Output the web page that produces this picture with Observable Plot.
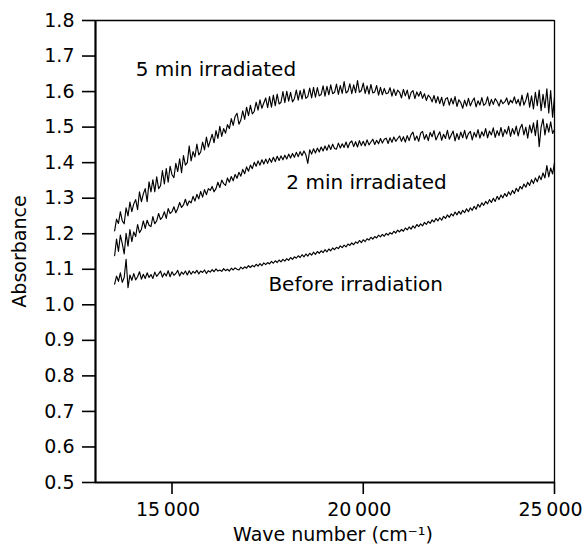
<!DOCTYPE html>
<html>
<head>
<meta charset="utf-8">
<script src="https://cdn.jsdelivr.net/npm/d3@7"></script>
<script src="https://cdn.jsdelivr.net/npm/@observablehq/plot@0.6"></script>
<style>
  html, body { margin: 0; padding: 0; background: #fff; }
  #chart svg g[aria-label="y-axis tick"] path,
  #chart svg g[aria-label="x-axis tick"] path { stroke-width: 1.6; }
</style>
</head>
<body>
<div id="chart"></div>
<script>
// Wave numbers (cm^-1) sampled along the spectra
const waveNumbers = [
  13500,13550,13600,13650,13700,13750,13800,13850,13900,13950,
  14000,14050,14100,14150,14200,14250,14300,14350,14400,14450,
  14500,14550,14600,14650,14700,14750,14800,14850,14900,14950,
  15000,15050,15100,15150,15200,15250,15300,15350,15400,15450,
  15500,15550,15600,15650,15700,15750,15800,15850,15900,15950,
  16000,16050,16100,16150,16200,16250,16300,16350,16400,16450,
  16500,16550,16600,16650,16700,16750,16800,16850,16900,16950,
  17000,17050,17100,17150,17200,17250,17300,17350,17400,17450,
  17500,17550,17600,17650,17700,17750,17800,17850,17900,17950,
  18000,18050,18100,18150,18200,18250,18300,18350,18400,18450,
  18500,18550,18600,18650,18700,18750,18800,18850,18900,18950,
  19000,19050,19100,19150,19200,19250,19300,19350,19400,19450,
  19500,19550,19600,19650,19700,19750,19800,19850,19900,19950,
  20000,20050,20100,20150,20200,20250,20300,20350,20400,20450,
  20500,20550,20600,20650,20700,20750,20800,20850,20900,20950,
  21000,21050,21100,21150,21200,21250,21300,21350,21400,21450,
  21500,21550,21600,21650,21700,21750,21800,21850,21900,21950,
  22000,22050,22100,22150,22200,22250,22300,22350,22400,22450,
  22500,22550,22600,22650,22700,22750,22800,22850,22900,22950,
  23000,23050,23100,23150,23200,23250,23300,23350,23400,23450,
  23500,23550,23600,23650,23700,23750,23800,23850,23900,23950,
  24000,24050,24100,24150,24200,24250,24300,24350,24400,24450,
  24500,24550,24600,24650,24700,24750,24800,24850,24900,24950,
  25000
];

// Absorbance, 5 min irradiated
const abs5min = [
  1.208,1.241,1.229,1.262,1.236,1.228,1.273,1.250,1.289,1.262,
  1.284,1.296,1.268,1.318,1.290,1.312,1.327,1.290,1.346,1.318,
  1.352,1.318,1.360,1.327,1.335,1.378,1.340,1.383,1.345,1.390,
  1.366,1.358,1.398,1.375,1.411,1.372,1.420,1.393,1.400,1.447,
  1.405,1.431,1.416,1.452,1.422,1.430,1.458,1.436,1.472,1.444,
  1.462,1.480,1.456,1.490,1.468,1.502,1.474,1.496,1.483,1.507,
  1.496,1.524,1.505,1.530,1.539,1.508,1.520,1.546,1.522,1.556,
  1.532,1.561,1.537,1.544,1.570,1.548,1.577,1.553,1.568,1.582,
  1.555,1.586,1.556,1.590,1.560,1.593,1.565,1.570,1.600,1.569,
  1.601,1.573,1.598,1.571,1.580,1.604,1.576,1.603,1.579,1.607,
  1.581,1.586,1.610,1.582,1.612,1.584,1.611,1.588,1.592,1.616,
  1.587,1.615,1.591,1.619,1.594,1.598,1.621,1.592,1.617,1.595,
  1.628,1.596,1.601,1.622,1.594,1.619,1.597,1.631,1.598,1.603,
  1.624,1.595,1.616,1.593,1.620,1.596,1.599,1.617,1.590,1.612,
  1.591,1.609,1.594,1.596,1.611,1.587,1.607,1.589,1.604,1.598,
  1.582,1.606,1.588,1.604,1.579,1.597,1.603,1.580,1.599,1.587,
  1.600,1.581,1.594,1.575,1.590,1.584,1.571,1.589,1.568,1.586,
  1.566,1.584,1.560,1.579,1.583,1.562,1.581,1.565,1.586,1.558,
  1.577,1.569,1.553,1.576,1.559,1.581,1.560,1.573,1.582,1.557,
  1.574,1.562,1.583,1.561,1.566,1.585,1.560,1.578,1.564,1.580,
  1.572,1.559,1.577,1.566,1.571,1.582,1.563,1.576,1.568,1.585,
  1.566,1.578,1.560,1.590,1.562,1.575,1.596,1.556,1.588,1.551,
  1.598,1.560,1.604,1.546,1.592,1.555,1.608,1.540,1.603,1.528,
  1.585
];

// Absorbance, 2 min irradiated
const abs2min = [
  1.138,1.185,1.150,1.196,1.172,1.143,1.201,1.165,1.212,1.178,
  1.205,1.192,1.226,1.203,1.212,1.236,1.215,1.238,1.224,1.220,
  1.248,1.228,1.236,1.257,1.240,1.247,1.262,1.243,1.271,1.257,
  1.262,1.276,1.259,1.271,1.288,1.274,1.281,1.297,1.279,1.292,
  1.287,1.305,1.292,1.311,1.298,1.319,1.303,1.324,1.310,1.327,
  1.322,1.333,1.318,1.327,1.345,1.330,1.351,1.341,1.336,1.357,
  1.345,1.361,1.349,1.367,1.356,1.373,1.362,1.381,1.369,1.388,
  1.376,1.393,1.383,1.401,1.390,1.405,1.393,1.408,1.396,1.410,
  1.398,1.412,1.401,1.415,1.403,1.418,1.406,1.419,1.408,1.421,
  1.410,1.424,1.413,1.426,1.415,1.429,1.417,1.431,1.420,1.433,
  1.422,1.398,1.436,1.424,1.439,1.427,1.441,1.430,1.444,1.433,
  1.447,1.435,1.450,1.437,1.452,1.440,1.438,1.455,1.441,1.453,
  1.443,1.458,1.442,1.456,1.461,1.445,1.459,1.444,1.462,1.448,
  1.460,1.447,1.464,1.450,1.458,1.466,1.451,1.463,1.453,1.468,
  1.455,1.466,1.469,1.454,1.470,1.457,1.472,1.460,1.468,1.475,
  1.460,1.473,1.458,1.476,1.462,1.479,1.486,1.463,1.475,1.460,
  1.483,1.488,1.466,1.479,1.462,1.485,1.473,1.490,1.464,1.476,
  1.487,1.463,1.480,1.468,1.491,1.466,1.478,1.489,1.461,1.482,
  1.465,1.486,1.470,1.491,1.467,1.482,1.488,1.464,1.485,1.472,
  1.493,1.469,1.487,1.475,1.496,1.470,1.489,1.478,1.498,1.471,
  1.490,1.476,1.499,1.473,1.493,1.481,1.502,1.474,1.496,1.480,
  1.503,1.475,1.497,1.508,1.478,1.500,1.469,1.506,1.484,1.512,
  1.476,1.519,1.445,1.500,1.523,1.478,1.510,1.486,1.515,1.482,
  1.493
];

// Absorbance, before irradiation
const absBefore = [
  1.058,1.081,1.066,1.090,1.063,1.077,1.128,1.048,1.084,1.069,
  1.088,1.070,1.079,1.093,1.072,1.086,1.074,1.090,1.077,1.085,
  1.074,1.092,1.080,1.087,1.095,1.078,1.089,1.081,1.096,1.079,
  1.093,1.083,1.088,1.097,1.081,1.092,1.086,1.095,1.084,1.096,
  1.086,1.094,1.089,1.097,1.087,1.095,1.091,1.098,1.088,1.096,
  1.092,1.099,1.093,1.101,1.095,1.098,1.094,1.102,1.096,1.100,
  1.095,1.103,1.098,1.104,1.100,1.098,1.106,1.101,1.107,1.103,
  1.110,1.105,1.111,1.107,1.114,1.109,1.116,1.110,1.118,1.113,
  1.119,1.115,1.122,1.117,1.124,1.119,1.126,1.121,1.128,1.123,
  1.130,1.125,1.133,1.128,1.135,1.131,1.138,1.133,1.141,1.135,
  1.143,1.137,1.145,1.140,1.148,1.142,1.150,1.145,1.152,1.147,
  1.155,1.149,1.157,1.152,1.160,1.155,1.162,1.158,1.166,1.161,
  1.168,1.163,1.171,1.167,1.174,1.169,1.177,1.173,1.181,1.175,
  1.183,1.178,1.186,1.182,1.190,1.185,1.192,1.188,1.196,1.191,
  1.198,1.193,1.201,1.196,1.203,1.199,1.207,1.202,1.210,1.205,
  1.212,1.207,1.216,1.211,1.219,1.213,1.222,1.216,1.226,1.220,
  1.228,1.222,1.232,1.226,1.235,1.229,1.239,1.233,1.243,1.236,
  1.245,1.238,1.249,1.243,1.253,1.246,1.256,1.250,1.261,1.253,
  1.263,1.255,1.266,1.259,1.270,1.262,1.273,1.266,1.277,1.269,
  1.283,1.275,1.287,1.280,1.291,1.284,1.296,1.288,1.300,1.291,
  1.305,1.296,1.309,1.301,1.313,1.305,1.318,1.309,1.322,1.313,
  1.328,1.319,1.333,1.326,1.340,1.331,1.345,1.336,1.352,1.341,
  1.357,1.346,1.363,1.352,1.371,1.357,1.392,1.360,1.385,1.368,
  1.400
];

// Curve annotations
const curveLabels = ["5 min irradiated", "2 min irradiated", "Before irradiation"];
const curveLabelWave = [14050, 17990, 17520];
const curveLabelAbs = [1.662, 1.344, 1.057];

// Axis ticks
const xTicks = [15000, 20000, 25000];
const yTicks = [0.5,0.6,0.7,0.8,0.9,1.0,1.1,1.2,1.3,1.4,1.5,1.6,1.7,1.8];
const xDomain = [13000, 25000];
const yDomain = [0.5, 1.8];

const series = [
  {name: "5 min", values: abs5min},
  {name: "2 min", values: abs2min},
  {name: "before", values: absBefore}
];
const rows = series.flatMap(s => s.values.map((v, i) => ({series: s.name, wave: waveNumbers[i], abs: v})));
const labelRows = curveLabels.map((t, i) => ({text: t, wave: curveLabelWave[i], abs: curveLabelAbs[i]}));

const fmtX = d => String(d).replace(/(\d+)(\d{3})$/, "$1\u2009$2");

const chart = Plot.plot({
  width: 585,
  height: 555,
  marginTop: 20,
  marginLeft: 95,
  marginRight: 31,
  marginBottom: 73,
  style: {fontFamily: "DejaVu Sans", fontSize: "19px", color: "black", background: "white"},
  x: {
    domain: xDomain, ticks: xTicks, tickFormat: fmtX, tickSize: 12, tickPadding: 8,
    label: "Wave number (cm\u207B\u00B9)", labelAnchor: "center", labelOffset: 58, labelArrow: "none"
  },
  y: {
    domain: yDomain, ticks: yTicks, tickFormat: d3.format(".1f"), tickSize: 13, tickPadding: 8,
    label: "Absorbance", labelAnchor: "center", labelOffset: 83, labelArrow: "none"
  },
  marks: [
    Plot.line(rows, {x: "wave", y: "abs", z: "series", stroke: "black", strokeWidth: 1.15}),
    Plot.text(labelRows, {x: "wave", y: "abs", text: "text", textAnchor: "start", lineAnchor: "middle", fontSize: 20, fill: "black"}),
    Plot.ruleX([xDomain[0]], {stroke: "black", strokeWidth: 2.2}),
    Plot.ruleY([yDomain[0]], {stroke: "black", strokeWidth: 2.2}),
    Plot.ruleX([xDomain[1]], {stroke: "black", strokeWidth: 1.3}),
    Plot.ruleY([yDomain[1]], {stroke: "black", strokeWidth: 1.3})
  ]
});
// small nudges of axis texts to match the reference placement
d3.select(chart).selectAll('g[aria-label="x-axis tick label"] text').attr("dx", -4);
d3.select(chart).selectAll('g[aria-label="x-axis label"] text').attr("dx", 8);
document.getElementById("chart").appendChild(chart);
</script>
</body>
</html>
